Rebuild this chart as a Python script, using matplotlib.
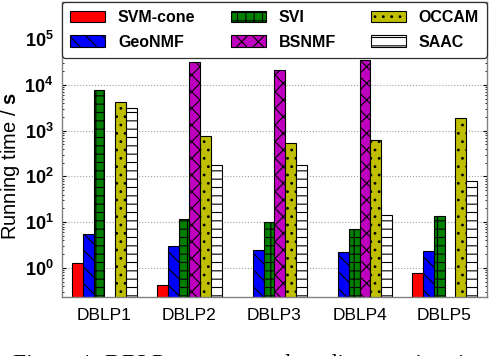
import numpy as np
import matplotlib
matplotlib.use('Agg')
import matplotlib.pyplot as plt
from matplotlib.ticker import FixedLocator, FuncFormatter, LogLocator, NullFormatter

plt.rcParams['font.family'] = ['Liberation Sans', 'DejaVu Sans']
plt.rcParams['mathtext.fontset'] = 'custom'
plt.rcParams['mathtext.rm'] = 'Liberation Sans:bold'
plt.rcParams['mathtext.bf'] = 'Liberation Sans:bold'
plt.rcParams['hatch.linewidth'] = 0.8

# data (seconds, log scale)
datasets = ['DBLP1', 'DBLP2', 'DBLP3', 'DBLP4', 'DBLP5']
methods = ['SVM-cone', 'GeoNMF', 'SVI', 'BSNMF', 'OCCAM', 'SAAC']
svm_cone = [1.3, 0.42, 0.2, 0.2, 0.79]
geonmf = [5.5, 2.97, 2.47, 2.24, 2.35]
svi = [7700, 11.5, 10.1, 7.1, 13.6]
bsnmf = [np.nan, 30900, 21000, 35300, np.nan]
occam = [4200, 770, 537, 630, 1880]
saac = [3100, 177, 177, 14.4, 78]

series = [svm_cone, geonmf, svi, bsnmf, occam, saac]
colors = ['#ff0000', '#0000ff', '#007f00', '#c000c0', '#bfbf00', '#ffffff']
hatches = [None, '\\\\', '++', 'xx', '..', '--']

fig = plt.figure(figsize=(4.9, 3.56), dpi=100)
ax = fig.add_axes([0.1265, 0.1657, 0.8674, 0.8287])

x = np.arange(1, len(datasets) + 1)
w = 0.127
for i, (vals, c, h, name) in enumerate(zip(series, colors, hatches, methods)):
    ax.bar(x + (i - 2.5) * w, vals, width=w, color=c, hatch=h,
           edgecolor='black', linewidth=0.8, label=name)

ax.set_yscale('log')
ax.set_ylim(10 ** -0.633, 10 ** 5.81)
ax.set_xlim(0.5, 5.5)

ax.yaxis.set_major_locator(FixedLocator([1, 10, 100, 1e3, 1e4, 1e5]))
ax.yaxis.set_major_formatter(FuncFormatter(lambda v, p: r'$\mathbf{10^{%d}}$' % round(np.log10(v))))
ax.yaxis.set_minor_locator(LogLocator(base=10, subs=np.arange(2, 10)))
ax.yaxis.set_minor_formatter(NullFormatter())
ax.set_xticks(x)
ax.set_xticklabels(datasets, fontsize=12.5)
ax.tick_params(axis='y', labelsize=13, direction='in', right=True, length=3, pad=6)
ax.tick_params(axis='y', which='minor', direction='in', right=True, length=1.5)
ax.tick_params(axis='x', length=0, pad=8)

ax.grid(axis='y', which='major', linestyle=':', color='#a0a0a0', linewidth=0.8)
ax.set_axisbelow(True)
for s in ax.spines.values():
    s.set_color('#808080')
    s.set_linewidth(1.0)

ax.set_ylabel(r'Running time / $\mathbf{s}$', fontsize=14.5)
ax.yaxis.set_label_coords(-0.094, 0.444)

leg = ax.legend(ncol=3, loc='upper left', bbox_to_anchor=(0, 1, 1.0, 0), mode='expand',
                handlelength=2.2, handleheight=0.75, handletextpad=0.8,
                borderaxespad=0, borderpad=0.5, labelspacing=0.6,
                prop={'weight': 'bold', 'size': 11.5},
                fancybox=True, framealpha=1, edgecolor='#303030')
leg.get_frame().set_linewidth(0.9)

fig.text(0.027, -0.040, 'Figure 1: DBLP — mean and median running time over all real datasets',
         family='Liberation Serif', fontsize=17, va='baseline', ha='left')

fig.savefig('out.png', dpi=100)
